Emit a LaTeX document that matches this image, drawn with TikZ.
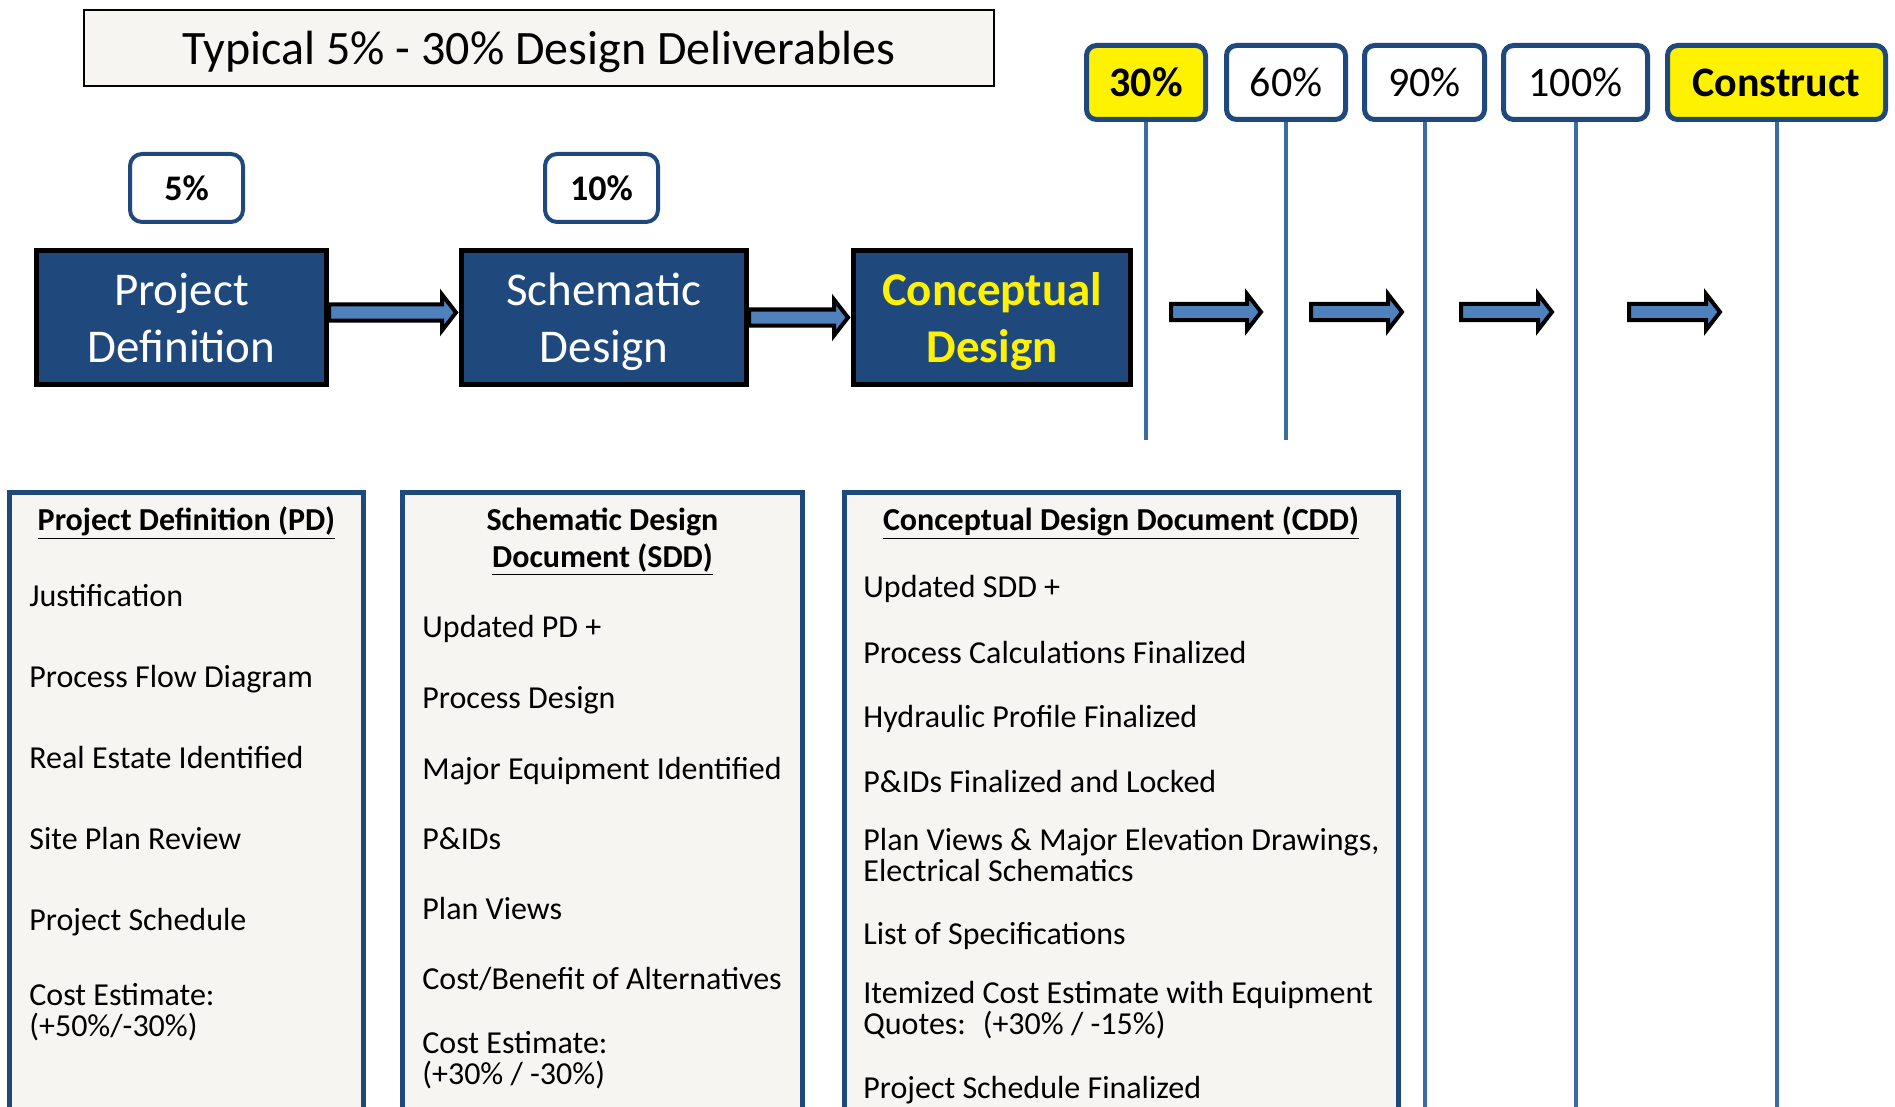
\documentclass[tikz,border=0pt]{standalone}
\usepackage{fontspec}
\setmainfont{Carlito}
\usetikzlibrary{calc}

\definecolor{boxblue}{HTML}{1F497D}
\definecolor{lineblue}{HTML}{3A6CA3}
\definecolor{arrowblue}{HTML}{4F81BD}
\definecolor{paper}{HTML}{F6F5F2}

\tikzset{
  phase/.style={draw=black, line width=2.5pt, fill=boxblue, text=white, align=center, text depth=0pt, font=\fontsize{23.5}{28.5}\selectfont},
  pct/.style={draw=boxblue, line width=2pt, rounded corners=6pt, fill=white, font=\fontsize{18}{22}\selectfont\bfseries},
  mile/.style={draw=boxblue, line width=2.5pt, rounded corners=5pt, fill=white, minimum height=37pt, font=\fontsize{21}{25}\selectfont},
  docbox/.style={draw=boxblue, line width=2.5pt, fill=paper, anchor=north, minimum height=320pt},
  dochead/.style={anchor=base, inner sep=0pt, align=center, font=\fontsize{16}{18.5}\selectfont\bfseries},
  item/.style={anchor=base west, inner sep=0pt, align=left, font=\fontsize{16}{15.5}\selectfont},
  mileline/.style={draw=lineblue, line width=2pt},
  blockarrow/.style={draw=black, line width=2pt, fill=arrowblue, line join=miter}
}

% fat arrow from #1 to the x of #2
\newcommand{\blockarrow}[2]{%
  \draw[blockarrow] ($(#1)+(0,-8)$) -- ($(#2|-#1)+(-17,-8)$) -- ($(#2|-#1)+(-17,-18)$)
    -- ($(#2|-#1)+(-3,0)$) -- ($(#2|-#1)+(-17,18)$) -- ($(#2|-#1)+(-17,8)$) -- ($(#1)+(0,8)$) -- cycle;}

\begin{document}
\begin{tikzpicture}[x=0.5pt,y=-0.5pt]
    \path[use as bounding box, clip] (0,0) rectangle (1895,1107);

    % title
    \node[draw=black, line width=1pt, fill=paper, minimum width=455pt, minimum height=38pt, text depth=0pt,
          font=\fontsize{24}{28}\selectfont] (title) at (539,48) {Typical 5\% - 30\% Design Deliverables};

    % milestones and their lines
    \coordinate (short) at (0,440);
    \coordinate (bottom) at (0,1110);

    \node[mile, minimum width=59.5pt, fill=yellow, font=\fontsize{21}{25}\selectfont\bfseries] (m30) at (1146,82.5) {30\%};
    \node[mile, minimum width=59.5pt] (m60) at (1286,82.5) {60\%};
    \node[mile, minimum width=60pt] (m90) at (1424.5,82.5) {90\%};
    \node[mile, minimum width=72pt] (m100) at (1575.5,82.5) {100\%};
    \node[mile, minimum width=109pt, fill=yellow, font=\fontsize{21}{25}\selectfont\bfseries] (mcon) at (1776.5,82.5) {Construct};

    \draw[mileline] (m30.south) -- (m30.south |- short);
    \draw[mileline] (m60.south) -- (m60.south |- short);
    \draw[mileline] (m90.south) -- (m90.south |- bottom);
    \draw[mileline] (m100.south) -- (m100.south |- bottom);
    \draw[mileline] (mcon.south) -- (mcon.south |- bottom);

    % phases
    \node[pct, minimum width=56.5pt, minimum height=34pt] (pct5) at (186.5,188) {5\%};
    \node[pct, minimum width=56.5pt, minimum height=34pt] (pct10) at (601.5,188) {10\%};

    \node[phase, minimum width=145pt, minimum height=67pt] (pd) at (181.5,317.5) {Project\\Definition};
    \node[phase, minimum width=142.5pt, minimum height=67pt] (sd) at (604,317.5) {Schematic\\Design};
    \node[phase, minimum width=138.5pt, minimum height=67pt, text=yellow,
          font=\fontsize{23.5}{28.5}\selectfont\bfseries] (cd) at (992,317.5) {Conceptual\\Design};

    \coordinate (pdout) at ($(pd.east)+(0,-5)$);
    \blockarrow{pdout}{sd.west}
    \blockarrow{sd.east}{cd.west}

    \coordinate (a1s) at (1171,312);  \coordinate (a1e) at (1264,312);
    \coordinate (a2s) at (1311,312);  \coordinate (a2e) at (1405,312);
    \coordinate (a3s) at (1461,312);  \coordinate (a3e) at (1555,312);
    \coordinate (a4s) at (1629,312);  \coordinate (a4e) at (1723,312);
    \blockarrow{a1s}{a1e}
    \blockarrow{a2s}{a2e}
    \blockarrow{a3s}{a3e}
    \blockarrow{a4s}{a4e}

    % deliverable boxes
    \node[docbox, minimum width=177pt] (pdbox) at (186.5,489.5) {};
    \node[docbox, minimum width=200pt] (sddbox) at (602.5,489.5) {};
    \node[docbox, minimum width=277pt] (cddbox) at (1121.5,489.5) {};

    \node[dochead] (pdhead) at (186.5,530) {\underline{Project Definition (PD)}};
    \node[item] (pdjust) at (29,606) {Justification};
    \node[item] (pdflow) at (29,687) {Process Flow Diagram};
    \node[item] (pdland) at (29,768) {Real Estate Identified};
    \node[item] (pdsite) at (29,849) {Site Plan Review};
    \node[item] (pdsched) at (29,930) {Project Schedule};
    \node[item] (pdcost) at (29,1036) {Cost Estimate:\\(+50\%/-30\%)};

    \node[dochead] (sddhead) at (602.5,567) {Schematic Design\\\underline{Document (SDD)}};
    \node[item] (sddupd) at (422,637) {Updated PD +};
    \node[item] (sddproc) at (422,708) {Process Design};
    \node[item] (sddequip) at (422,779) {Major Equipment Identified};
    \node[item] (sddpid) at (422,849) {P\&IDs};
    \node[item] (sddplan) at (422,919) {Plan Views};
    \node[item] (sddalt) at (422,989) {Cost/Benefit of Alternatives};
    \node[item] (sddcost) at (422,1084) {Cost Estimate:\\(+30\% / -30\%)};

    \node[dochead] (cddhead) at (1121,530) {\underline{Conceptual Design Document (CDD)}};
    \node[item] (cddupd) at (863,597) {Updated SDD +};
    \node[item] (cddcalc) at (863,663) {Process Calculations Finalized};
    \node[item] (cddhyd) at (863,727) {Hydraulic Profile Finalized};
    \node[item] (cddpid) at (863,792) {P\&IDs Finalized and Locked};
    \node[item] (cddplan) at (863,881) {Plan Views \& Major Elevation Drawings,\\Electrical Schematics};
    \node[item] (cddspec) at (863,944) {List of Specifications};
    \node[item] (cddcost) at (863,1034) {Itemized Cost Estimate with Equipment\\Quotes:~ (+30\% / -15\%)};
    \node[item] (cddsched) at (863,1098) {Project Schedule Finalized};
\end{tikzpicture}
\end{document}
